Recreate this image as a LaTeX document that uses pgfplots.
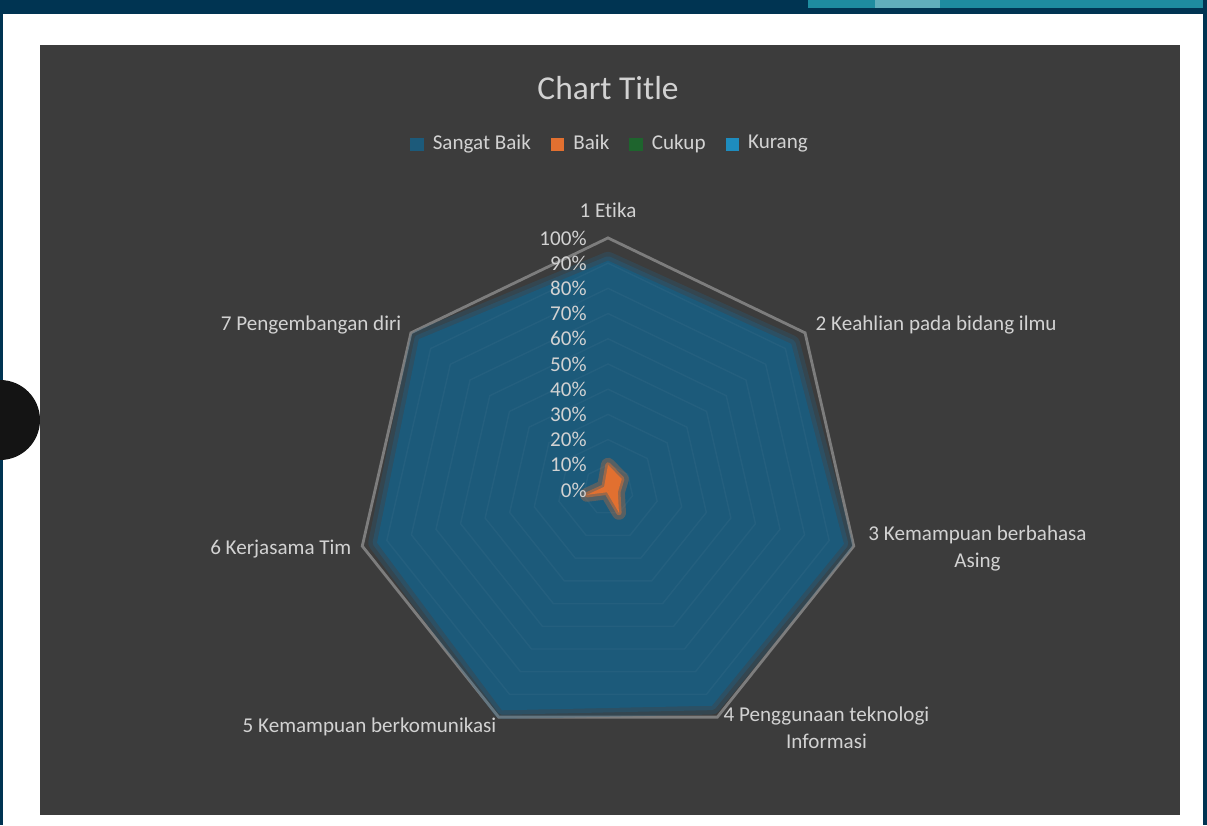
\documentclass[border=0pt]{standalone}
\usepackage{fontspec}
\setmainfont{Carlito}[Ligatures={NoCommon,NoRare}]
\usepackage{pgfplots}
\pgfplotsset{compat=1.18}
\definecolor{bgdark}{RGB}{60,60,60}
\definecolor{navy}{RGB}{0,52,82}
\definecolor{tealbar}{RGB}{30,140,160}
\definecolor{sbblue}{RGB}{28,90,122}
\definecolor{sbglow}{RGB}{30,100,140}
\definecolor{baikor}{RGB}{226,112,48}
\definecolor{cukupgr}{RGB}{30,100,45}
\definecolor{kurangbl}{RGB}{30,140,190}
\definecolor{txt}{RGB}{210,210,210}
\definecolor{gridout}{RGB}{125,125,125}
\newcommand{\lblfont}{\fontsize{6}{7.7}\selectfont}
\begin{document}
\begin{tikzpicture}[x=1cm,y=1cm]
\fill[white] (0,0) rectangle (12.07,8.25);
\fill[navy] (0,8.11) rectangle (12.07,8.25);
\fill[tealbar] (8.08,8.17) rectangle (12.07,8.25);
\fill[tealbar!70!white] (8.75,8.17) rectangle (9.40,8.25);
\fill[navy] (0,0) rectangle (0.03,8.25);
\fill[navy] (12.03,0) rectangle (12.07,8.25);
\fill[bgdark] (0.40,0.10) rectangle (11.80,7.80);
\begin{axis}[
  at={(6.08cm,3.35cm)}, anchor=origin,
  x=0.0252cm, y=0.0252cm,
  xmin=-241, xmax=237, ymin=-132, ymax=194,
  axis x line=none, axis y line=center,
  y axis line style={draw=none},
  major tick length=0pt,
  ytick={0,10,...,100},
  /pgf/number format/assume math mode=true,
  yticklabel={\pgfmathprintnumber{\tick}\%},
  yticklabel style={font=\lblfont, text=txt, anchor=east, xshift=-0.09cm},
  axis on top, clip=false,
  legend columns=4,
  legend style={at={(0.508,0.825)}, anchor=center, draw=none, fill=none,
    font=\lblfont, text=txt, inner sep=0pt,
    /tikz/every even column/.append style={column sep=0.13cm},
    /tikz/every odd column/.append style={column sep=0.02cm}},
]
% outer ring
\addplot[forget plot, data cs=polar, draw=gridout, line width=0.8pt, line join=miter]
  coordinates {(90,100) (38.5714,100) (-12.8571,100) (-64.2857,100) (-115.7143,100) (-167.1429,100) (-218.5714,100)} -- cycle;
% Sangat Baik: glow then fill
\addplot[forget plot, data cs=polar, draw=sbglow, draw opacity=0.25, line width=5pt, line join=round]
  coordinates {(90,91) (38.5714,93) (-12.8571,96) (-64.2857,95) (-115.7143,97) (-167.1429,94) (-218.5714,96)} -- cycle;
\addplot[forget plot, data cs=polar, draw=sbglow, draw opacity=0.35, line width=2.5pt, line join=round]
  coordinates {(90,91) (38.5714,93) (-12.8571,96) (-64.2857,95) (-115.7143,97) (-167.1429,94) (-218.5714,96)} -- cycle;
\addplot[forget plot, data cs=polar, fill=sbblue, draw=none]
  coordinates {(90,91) (38.5714,93) (-12.8571,96) (-64.2857,95) (-115.7143,97) (-167.1429,94) (-218.5714,96)} -- cycle;
% faint inner grid
\pgfplotsinvokeforeach{10,20,...,90}{
\addplot[forget plot, data cs=polar, draw=white, draw opacity=0.035, line width=0.4pt]
  coordinates {(90,#1) (38.5714,#1) (-12.8571,#1) (-64.2857,#1) (-115.7143,#1) (-167.1429,#1) (-218.5714,#1)} -- cycle;
}
% Baik: glow then fill
\addplot[forget plot, data cs=polar, draw=baikor, draw opacity=0.3, line width=4pt, line join=round]
  coordinates {(90,10) (38.5714,7) (-12.8571,4) (-64.2857,10) (-115.7143,1) (-167.1429,8.5) (-218.5714,2)} -- cycle;
\addplot[forget plot, data cs=polar, draw=baikor, draw opacity=0.5, line width=1.5pt, line join=round]
  coordinates {(90,10) (38.5714,7) (-12.8571,4) (-64.2857,10) (-115.7143,1) (-167.1429,8.5) (-218.5714,2)} -- cycle;
\addplot[forget plot, data cs=polar, fill=baikor, draw=none]
  coordinates {(90,10) (38.5714,7) (-12.8571,4) (-64.2857,10) (-115.7143,1) (-167.1429,8.5) (-218.5714,2)} -- cycle;
% Cukup and Kurang (all zero)
\addplot[forget plot, data cs=polar, fill=cukupgr, draw=none]
  coordinates {(90,0) (38.5714,0) (-12.8571,0) (-64.2857,0) (-115.7143,0) (-167.1429,0) (-218.5714,0)} -- cycle;
\addplot[forget plot, data cs=polar, fill=kurangbl, draw=none]
  coordinates {(90,0) (38.5714,0) (-12.8571,0) (-64.2857,0) (-115.7143,0) (-167.1429,0) (-218.5714,0)} -- cycle;
% legend
\addlegendimage{legend image code/.code={\fill[sbblue] (0cm,-0.06cm) rectangle (0.12cm,0.06cm);}}
\addlegendentry{Sangat Baik}
\addlegendimage{legend image code/.code={\fill[baikor] (0cm,-0.06cm) rectangle (0.12cm,0.06cm);}}
\addlegendentry{Baik}
\addlegendimage{legend image code/.code={\fill[cukupgr] (0cm,-0.06cm) rectangle (0.12cm,0.06cm);}}
\addlegendentry{Cukup}
\addlegendimage{legend image code/.code={\fill[kurangbl] (0cm,-0.06cm) rectangle (0.12cm,0.06cm);}}
\addlegendentry{Kurang}
\end{axis}
% title and category labels
\node[text=txt, font=\fontsize{9.5}{11}\selectfont] at (6.08,7.37) {Chart Title};
\node[text=txt, font=\lblfont, inner sep=0pt] at (6.08,6.15) {1 Etika};
\node[text=txt, font=\lblfont, inner sep=0pt, anchor=west] at (8.15,5.00) {2 Keahlian pada bidang ilmu};
\node[text=txt, font=\lblfont, inner sep=0pt, align=center] at (9.775,2.765) {3 Kemampuan berbahasa\\Asing};
\node[text=txt, font=\lblfont, inner sep=0pt, align=center] at (8.265,0.975) {4 Penggunaan teknologi\\Informasi};
\node[text=txt, font=\lblfont, inner sep=0pt, anchor=east] at (4.97,0.98) {5 Kemampuan berkomunikasi};
\node[text=txt, font=\lblfont, inner sep=0pt, anchor=east] at (3.52,2.76) {6 Kerjasama Tim};
\node[text=txt, font=\lblfont, inner sep=0pt, anchor=east] at (4.02,5.00) {7 Pengembangan diri};
\fill[black!92] (0,4.05) circle (0.40);
\pgfresetboundingbox
\useasboundingbox (0,0) rectangle (12.07,8.25);
\end{tikzpicture}
\end{document}
